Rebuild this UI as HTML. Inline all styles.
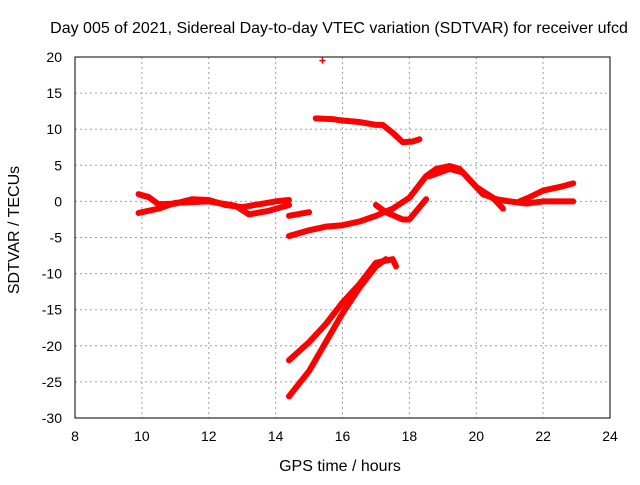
<!DOCTYPE html>
<html><head><meta charset="utf-8"><style>
body{margin:0;background:#fff}
svg text{font-family:"Liberation Sans",sans-serif;font-size:14px;fill:#000}
svg text.big{font-size:16px}
</style></head><body>
<svg id="c" width="640" height="480">
<text class="big" x="339" y="33" text-anchor="middle">Day 005 of 2021, Sidereal Day-to-day VTEC variation (SDTVAR) for receiver ufcd</text>
<text class="big" x="340" y="471" text-anchor="middle">GPS time / hours</text>
<text class="big" transform="translate(19,230) rotate(-90)" text-anchor="middle">SDTVAR / TECUs</text>
<g id="grid"></g><g id="ticks"></g><g id="series"></g>
<rect x="75" y="57" width="535" height="361" fill="none" stroke="#000"/>
</svg>
<script>
const xTicks=[8,10,12,14,16,18,20,22,24];
const yTicks=[20,15,10,5,0,-5,-10,-15,-20,-25,-30];
const sA=[[9.9,1.0],[10.2,0.6],[10.5,-0.4],[11,-0.3],[11.5,0.3],[12,0.2],[12.5,-0.5],[13,-0.8],[13.5,-0.4],[14,0],[14.4,0.2]];
const sB=[[9.9,-1.6],[10.5,-1.0],[11,-0.2],[12,0],[12.8,-0.6],[13.2,-1.8],[13.8,-1.3],[14.4,-0.5]];
const sC=[[14.4,-2],[15,-1.5]];
const sD=[[15.2,11.5],[15.7,11.4],[16,11.2],[16.5,11],[17,10.6],[17.2,10.6],[17.5,9.5],[17.8,8.2],[18.1,8.3],[18.3,8.6]];
const sE=[[14.4,-4.8],[15,-4],[15.5,-3.5],[16,-3.3],[16.5,-2.8],[17,-2],[17.5,-1],[18,0.5],[18.5,3.5],[18.8,4.5],[19.2,4.9],[19.5,4.5],[19.8,3],[20.2,1],[20.6,0.3],[21,0],[21.5,-0.3],[22,0],[22.9,0]];
const sE2=[[21.3,0],[21.6,0.6],[22,1.5],[22.5,2],[22.9,2.5]];
const sF=[[17,-0.5],[17.3,-1.5],[17.8,-2.5],[18,-2.5],[18.5,0.3]];
const sG=[[18.6,3.5],[19.2,4.5],[19.6,4],[20,2],[20.5,0.5],[20.8,-1]];
const sH=[[14.4,-22],[15,-19.5],[15.5,-17],[16,-14],[16.5,-11.5],[17,-8.5],[17.5,-8],[17.6,-9]];
const sI=[[14.4,-27],[15,-23.5],[15.5,-19.5],[16,-15.5],[16.5,-12],[17,-9],[17.3,-8]];
const outlier=[15.4,19.5];
const allSeries=[sA,sB,sC,sD,sE,sE2,sF,sG,sH,sI];
const X=h=>75+(h-8)*535/16, Y=v=>57+(20-v)*361/50;
const NS='http://www.w3.org/2000/svg';
const g=document.getElementById('grid'),t=document.getElementById('ticks'),s=document.getElementById('series');
function mk(tag,at,par){const e=document.createElementNS(NS,tag);for(const k in at)e.setAttribute(k,at[k]);par.appendChild(e);return e;}
xTicks.forEach(v=>{const x=X(v);
 if(v>8&&v<24){const l=mk('line',{x1:x,x2:x,y1:57,y2:418,stroke:'#a0a0a0','stroke-dasharray':'2,3'},g);
 
 }
 const tx=mk('text',{x:x,y:441,'text-anchor':'middle'},t);tx.textContent=v;
 
 });
yTicks.forEach(v=>{const y=Y(v);
 if(v>-30&&v<20){const l=mk('line',{x1:75,x2:610,y1:y,y2:y,stroke:'#a0a0a0','stroke-dasharray':'2,3'},g);
 
 }
 const tx=mk('text',{x:62,y:y+5,'text-anchor':'end'},t);tx.textContent=v;
 
 });
allSeries.forEach(ser=>{const p=mk('polyline',{points:ser.map(d=>X(d[0])+','+Y(d[1])).join(' '),fill:'none',stroke:'#f00','stroke-width':6,'stroke-linejoin':'round','stroke-linecap':'round'},s);
 
 });
const ox=X(outlier[0]),oy=Y(outlier[1]);
const o=mk('path',{d:`M${ox-3},${oy}h6M${ox},${oy-3}v6`,stroke:'#f00','stroke-width':1.5},s);


</script>
</body></html>
